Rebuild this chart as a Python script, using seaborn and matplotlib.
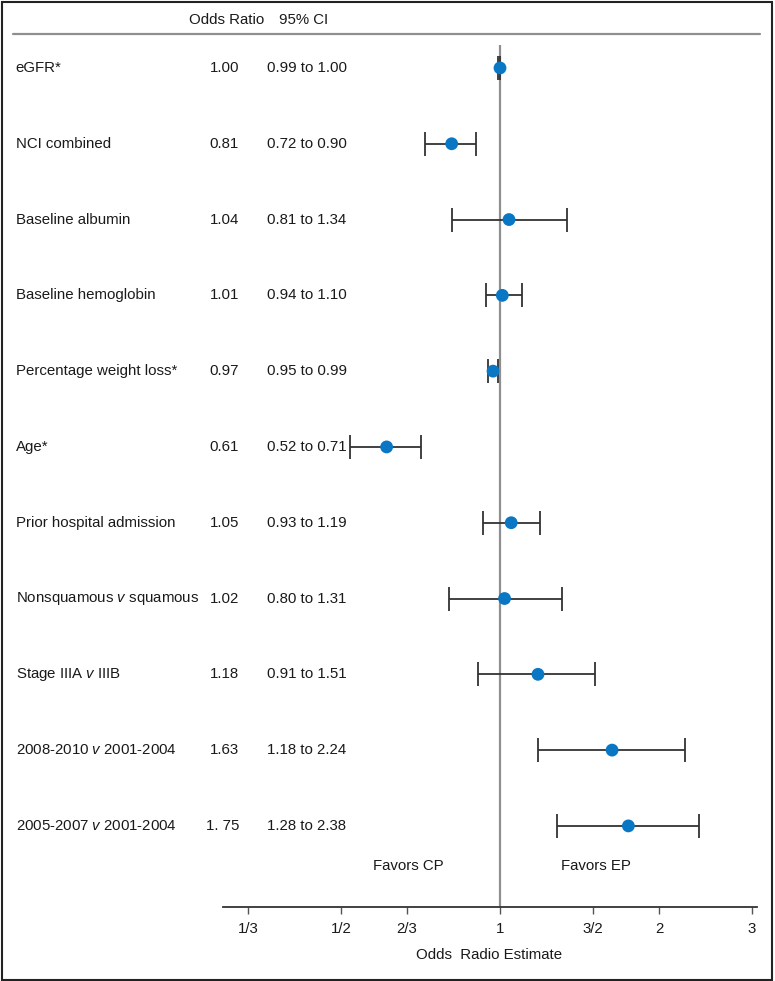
import numpy as np
import pandas as pd
import matplotlib
matplotlib.use("Agg")
import matplotlib.pyplot as plt
import matplotlib.transforms as mtransforms
from matplotlib.patches import Rectangle
from matplotlib.lines import Line2D
import seaborn as sns

# values
labels = ["eGFR*", "NCI combined", "Baseline albumin", "Baseline hemoglobin",
          "Percentage weight loss*", "Age*", "Prior hospital admission",
          "Nonsquamous $\\it{v}$ squamous", "Stage IIIA $\\it{v}$ IIIB",
          "2008-2010 $\\it{v}$ 2001-2004", "2005-2007 $\\it{v}$ 2001-2004"]
odds = [1.00, 0.81, 1.04, 1.01, 0.97, 0.61, 1.05, 1.02, 1.18, 1.63, 1.75]
ci_low = [0.99, 0.72, 0.81, 0.94, 0.95, 0.52, 0.93, 0.80, 0.91, 1.18, 1.28]
ci_high = [1.00, 0.90, 1.34, 1.10, 0.99, 0.71, 1.19, 1.31, 1.51, 2.24, 2.38]
odds_text = ["1.00", "0.81", "1.04", "1.01", "0.97", "0.61", "1.05", "1.02",
             "1.18", "1.63", "1. 75"]
tick_vals = [1/3, 1/2, 2/3, 1, 3/2, 2, 3]
tick_labels = ["1/3", "1/2", "2/3", "1", "3/2", "2", "3"]

sns.set_theme(style="white")
plt.rcParams['font.family'] = ['Liberation Sans', 'DejaVu Sans']
plt.rcParams['mathtext.fontset'] = 'custom'
plt.rcParams['mathtext.rm'] = 'Liberation Sans'
plt.rcParams['mathtext.it'] = 'Liberation Sans:italic'
fs = 10.8
txt_color = "#1a1a1a"

df = pd.DataFrame({"label": labels, "odds": odds, "low": ci_low, "high": ci_high,
                   "text": odds_text})
df["row"] = np.arange(len(df))
df["ci"] = [f"{a:.2f} to {b:.2f}" for a, b in zip(ci_low, ci_high)]

W, H = 775, 981
fig = plt.figure(figsize=(W / 100, H / 100), dpi=100)
ax = fig.add_axes([222.7 / W, 1 - 907 / H, (757 - 222.7) / W, (907 - 45) / H])
ax.set_xscale("log")

ax.axvline(1, color="#8f8f8f", lw=1.6, zorder=1)
ax.errorbar(df["odds"], df["row"],
            xerr=[df["odds"] - df["low"], df["high"] - df["odds"]],
            fmt="none", ecolor="#333333", elinewidth=1.3, capsize=8.5, capthick=1.3,
            zorder=2)
sns.scatterplot(data=df, x="odds", y="row", ax=ax, color="#0a77c4", s=85,
                edgecolor="none", zorder=3, legend=False)

ax.set_xlim(0.2985, 3.066)
ax.set_ylim(11.07, -0.303)
ax.set_xticks(tick_vals)
ax.set_xticklabels(tick_labels)
ax.xaxis.set_minor_locator(matplotlib.ticker.NullLocator())
ax.set_yticks([])
ax.set_xlabel("")
ax.set_ylabel("")
for s in ["top", "right", "left"]:
    ax.spines[s].set_visible(False)
ax.spines["bottom"].set_color("#333333")
ax.spines["bottom"].set_linewidth(1.3)
ax.tick_params(axis="x", direction="out", length=5, width=1, color="#555555",
               labelsize=fs, labelcolor=txt_color, pad=6, bottom=True)

# text columns
tr = mtransforms.blended_transform_factory(fig.transFigure, ax.transData)
for _, r in df.iterrows():
    ax.text(15.5 / W, r["row"], r["label"], transform=tr, ha="left", va="center",
            fontsize=fs, color=txt_color)
    ax.text(239 / W, r["row"], r["text"], transform=tr, ha="right", va="center",
            fontsize=fs, color=txt_color)
    ax.text(267 / W, r["row"], r["ci"], transform=tr, ha="left", va="center",
            fontsize=fs, color=txt_color)

fig.text(189 / W, 1 - 20 / H, "Odds Ratio", ha="left", va="center", fontsize=fs,
         color=txt_color)
fig.text(279 / W, 1 - 20 / H, "95% CI", ha="left", va="center", fontsize=fs,
         color=txt_color)
fig.add_artist(Line2D([13 / W, 760 / W], [1 - 34 / H, 1 - 34 / H],
                      color="#8f8f8f", lw=1.6))

ax.text(0.67, 10.53, "Favors CP", ha="center", va="center", fontsize=fs,
        color=txt_color)
ax.text(1.52, 10.53, "Favors EP", ha="center", va="center", fontsize=fs,
        color=txt_color)
fig.text(489 / W, 1 - 955 / H, "Odds  Radio Estimate", ha="center", va="center",
         fontsize=fs, color=txt_color)

fig.add_artist(Rectangle((1.5 / W, 1.5 / H), (772 - 1.5) / W, (979 - 1.5) / H,
                         transform=fig.transFigure, fill=False, lw=1.5,
                         ec="#222222"))

fig.savefig("out.png", dpi=100, facecolor="white")
